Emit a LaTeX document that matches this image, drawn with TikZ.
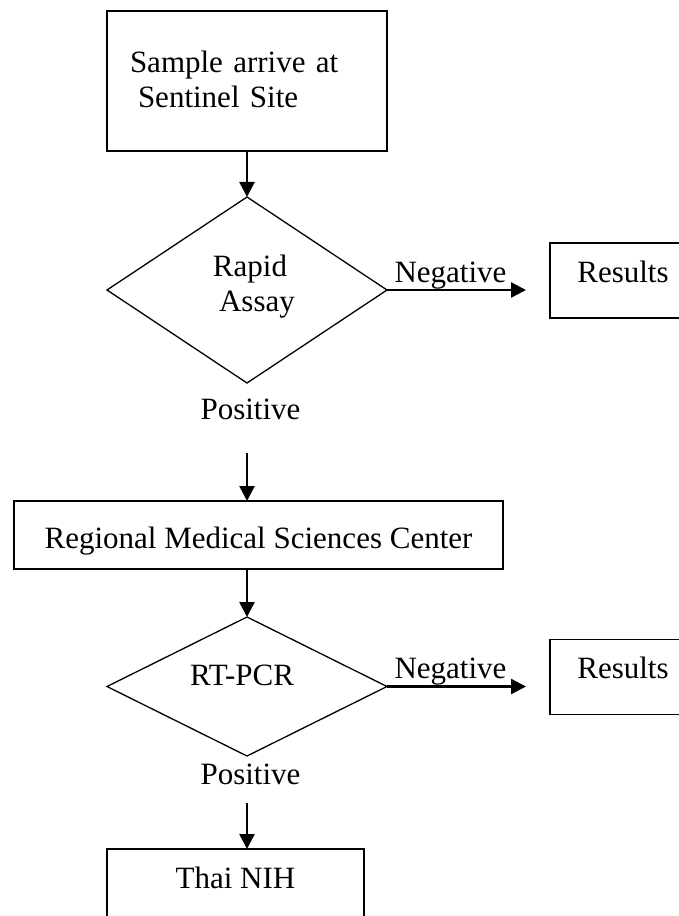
\documentclass[tikz,border=0pt]{standalone}
\usepackage{fontspec}
\setmainfont{Liberation Serif}
\usetikzlibrary{shapes.geometric, arrows.meta, positioning}
\tikzset{
  box/.style={
    draw,
    rectangle,
    line width=1.3pt,
    inner sep=0pt,
    outer sep=0pt,
    font=\fontsize{31}{35.5}\selectfont,
  },
  result/.style={
    box,
    minimum width=146pt,
    minimum height=75pt,
    text depth=18pt
  },
  decision/.style={
    box,
    diamond,
    minimum width=280pt,
    align=center
  },
  txt/.style={
    inner sep=3pt,
    font=\fontsize{31}{35.5}\selectfont
  },
  lbl/.style={
    above,
    inner sep=0pt,
    xshift=-6pt,
    font=\fontsize{31}{35.5}\selectfont
  },
  arrow/.style={
    -{Triangle[length=15pt,width=15pt]},
    line width=2.4pt
  }
}
\begin{document}
\begin{tikzpicture}[x=1pt, y=1pt]
  \useasboundingbox (0,0) rectangle (679,-916);
  \clip (0,0) rectangle (679,-916);

  \node[box, minimum width=280pt, minimum height=140pt, text width=234pt, align=left, text depth=39pt] (site) at (247,-81) {Sample arrive at\\\hspace*{8pt}Sentinel Site};
  \node[decision, minimum height=186pt, text depth=14pt, below=46pt of site] (rapid) {\hspace*{6pt}Rapid\\\hspace*{20pt}Assay};
  \node[result, right=163pt of rapid, yshift=9.5pt] (res1) {Results};
  \node[txt, below=12.8pt of rapid, xshift=3.5pt] (pos1) {Positive};
  \node[box, minimum width=489pt, minimum height=68pt, text height=28pt, text depth=2pt] (rmsc) at (258.5,-535) {Regional Medical Sciences Center};
  \node[decision, shape aspect=2, minimum height=139pt, text depth=23pt, below=48pt of rmsc, xshift=-11.5pt] (rt) {RT-PCR\hspace*{10pt}};
  \node[result, right=163pt of rt, yshift=9.5pt] (res2) {Results};
  \node[txt, below=4.8pt of rt, xshift=3.5pt] (pos2) {Positive};
  \node[result, minimum width=257pt] (nih) at (235.5,-886.5) {Thai NIH};

  \draw[arrow] (site) -- (rapid);
  \draw[arrow] (rapid.east) -- node[lbl] (neg1) {Negative} ([xshift=-24pt]rapid.east -| res1.west);
  \draw[arrow, shorten <=30pt] (pos1.south -| rapid) -- (rapid |- rmsc.north);
  \draw[arrow] (rmsc.south -| rt) -- (rt);
  \draw[arrow] (rt.east) -- node[lbl] (neg2) {Negative} ([xshift=-24pt]rt.east -| res2.west);
  \draw[arrow, shorten <=15pt] (pos2.south -| rt) -- (rt |- nih.north);
\end{tikzpicture}
\end{document}
